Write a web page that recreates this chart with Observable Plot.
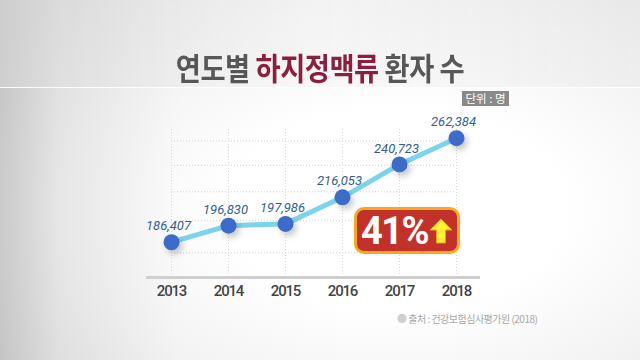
<!DOCTYPE html>
<html><head><meta charset="utf-8">
<script src="https://cdn.jsdelivr.net/npm/d3@7"></script>
<script src="https://cdn.jsdelivr.net/npm/@observablehq/plot@0.6"></script>
<style>
html,body{margin:0;padding:0;}
body{width:640px;height:360px;position:relative;overflow:hidden;font-family:"Noto Sans CJK KR",sans-serif;
background: radial-gradient(ellipse 75% 80% at 62% 58%, #ffffff 35%, #f2f2f2 70%, #e2e2e2 100%);}
#leftshade{position:absolute;left:0;top:0;width:190px;height:360px;background:linear-gradient(to right, rgba(140,140,140,0.35), rgba(185,185,185,0.2) 60px, rgba(220,220,220,0) 180px);}
#banner{position:absolute;left:0;top:0;width:640px;height:87px;background:linear-gradient(to right, rgba(215,215,215,0.5), rgba(245,245,245,0.55) 50%, rgba(232,232,232,0.5));border-bottom:1px solid rgba(255,255,255,0.9);}
#title{position:absolute;left:0;top:45px;width:640px;text-align:center;font-size:31px;font-weight:700;color:#575757;line-height:44px;transform:scaleX(0.88);letter-spacing:-0.5px;white-space:nowrap}
#title .hl{color:#8a1f3f}
#unit{position:absolute;left:462px;top:91px;width:47px;height:15px;background:#8a8a8a;color:#fff;font-size:11.5px;line-height:15px;text-align:center;white-space:nowrap}
#chart{position:absolute;left:0;top:100px;}
#badge{position:absolute;left:354px;top:207px;width:100px;height:41px;background:#c3312b;border:3px solid #f7a823;border-radius:10px;display:flex;align-items:center;justify-content:center;gap:1px;}
#badge span{color:#fff;font:700 38px Roboto,sans-serif;letter-spacing:-1.5px;line-height:1;margin-top:1px}
#source{position:absolute;left:397px;top:311px;font-size:10px;color:#a8a8a8;letter-spacing:-0.5px;white-space:nowrap}
#source b{color:#cfcfcf;font-weight:400}
</style></head>
<body>
<div id="leftshade"></div>
<div id="banner"></div>
<div id="title">연도별 <span class="hl">하지정맥류</span> 환자 수</div>
<div id="unit">단위 : 명</div>
<div id="chart"></div>
<div id="badge"><span>41%</span><svg width="24" height="26" viewBox="0 0 24 26"><polygon points="12,1 23,12 16.5,12 16.5,25 7.5,25 7.5,12 1,12" fill="#fff033" stroke="#f0a020" stroke-width="1"/></svg></div>
<div id="source"><b>●</b> 출처 : 건강보험심사평가원 (2018)</div>
<script>
const years = ["2013","2014","2015","2016","2017","2018"];
const patients = [186407, 196830, 197986, 216053, 240723, 262384];
const yDomain = [166000, 270000];

const data = years.map((year, i) => ({year, value: patients[i]}));
const gridValues = d3.scaleLog().domain(yDomain).ticks(5);

const chart = Plot.plot({
  width: 640, height: 200,
  marginLeft: 146, marginRight: 160, marginTop: 29, marginBottom: 23,
  x: {type: "point", domain: years, padding: 0.4, label: null},
  y: {type: "log", domain: yDomain, axis: null},
  style: {background: "transparent", overflow: "visible"},
  marks: [
    Plot.ruleY(gridValues, {x1: () => years[0], x2: () => years[years.length - 1], stroke: "#d0d0d0", strokeWidth: 1, strokeDasharray: "1,2"}),
    Plot.ruleX(years, {stroke: "#d8d8d8", strokeWidth: 1, strokeDasharray: "1,2"}),
    Plot.ruleY([yDomain[0]], {stroke: "#cfcfcf", strokeWidth: 3}),
    Plot.axisX({tickSize: 0, tickPadding: 8, fontSize: 15, fontFamily: "Roboto", fontWeight: 500, fill: "#444", label: null}),
    Plot.line(data, {x: "year", y: "value", stroke: "#7cd4ec", strokeWidth: 5}),
    Plot.dot(data, {x: "year", y: "value", r: 8, fill: "#3b6cc9", stroke: "none"}),
    Plot.text(data, {x: "year", y: "value", text: d => d3.format(",")(d.value), dy: -16, dx: -3, fill: "#2f5f98", fontSize: 13, fontStyle: "italic", fontFamily: "Roboto"})
  ]
});
document.getElementById("chart").appendChild(chart);
d3.select(chart).selectAll("circle").style("filter", "drop-shadow(3px 4px 3px rgba(0,0,0,0.22))");
d3.select(chart).selectAll('g[aria-label="x-axis tick label"] text').style("letter-spacing", "-1.2px");
</script>
</body></html>
